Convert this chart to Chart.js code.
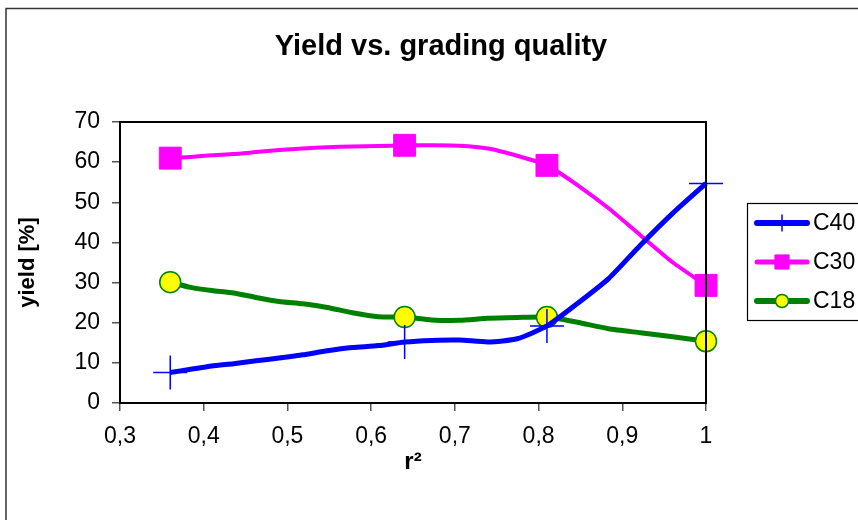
<!DOCTYPE html>
<html>
<head>
<meta charset="utf-8">
<script src="https://cdn.jsdelivr.net/npm/chart.js@4/dist/chart.umd.min.js"></script>
<style>
html,body{margin:0;padding:0;background:#fff;}
#wrap{width:858px;height:520px;position:relative;}
</style>
</head>
<body>
<div id="wrap"><canvas id="c" width="858" height="520"></canvas></div>
<script>
// r^2 values (r = 0.60 ... 1.00)
const rSquared = [0.36, 0.3844, 0.4096, 0.4356, 0.4624, 0.49, 0.5184, 0.5476, 0.5776, 0.6084, 0.64,
                  0.6724, 0.7056, 0.7396, 0.7744, 0.81, 0.8464, 0.8836, 0.9216, 0.9604, 1.0];
const c40 = [7.6, 8.4, 9.2, 9.8, 10.5, 11.2, 12.0, 13.0, 13.8, 14.3, 15.2,
             15.6, 15.7, 15.2, 16.0, 19.2, 24.8, 31.0, 39.3, 47.3, 54.7];
const c30 = [61.0, 61.3, 61.7, 62.0, 62.5, 63.0, 63.4, 63.7, 63.9, 64.0, 64.2,
             64.2, 64.1, 63.4, 61.6, 59.2, 54.3, 48.5, 41.8, 35.0, 29.3];
const c18 = [30.1, 28.8, 28.0, 27.4, 26.3, 25.3, 24.7, 23.8, 22.5, 21.5, 21.4,
             20.7, 20.6, 21.1, 21.3, 21.4, 20.1, 18.5, 17.5, 16.5, 15.4];
const markerIndices = [0, 10, 15, 20];
const seriesNames = ['C40', 'C30', 'C18'];
const xTickLabels = ['0,3', '0,4', '0,5', '0,6', '0,7', '0,8', '0,9', '1'];
const yTickLabels = ['0', '10', '20', '30', '40', '50', '60', '70'];
const chartTitle = 'Yield vs. grading quality';
const xTitle = 'r\u00B2';
const yTitle = 'yield [%]';

const FONT = "'Liberation Sans', Arial, sans-serif";
const toXY = arr => arr.map((v, i) => ({x: rSquared[i], y: v}));
const mk = r => ctx => markerIndices.includes(ctx.dataIndex) ? r : 0;

const datasets = [
  {label: seriesNames[0], data: toXY(c40), borderColor: '#0000FF', backgroundColor: '#0000FF',
   borderWidth: 5, pointStyle: 'cross', pointRadius: mk(17), pointBorderWidth: 1.5,
   pointBorderColor: '#0000FF', pointBackgroundColor: '#0000FF', legendRadius: 8.5},
  {label: seriesNames[1], data: toXY(c30), borderColor: '#FF00FF', backgroundColor: '#FF00FF',
   borderWidth: 4, pointStyle: 'rect', pointRadius: mk(15.5), pointBorderWidth: 1,
   pointBorderColor: '#FF00FF', pointBackgroundColor: '#FF00FF', legendRadius: 10},
  {label: seriesNames[2], data: toXY(c18), borderColor: '#008000', backgroundColor: '#008000',
   borderWidth: 5, pointStyle: 'circle', pointRadius: mk(10.5), pointBorderWidth: 1.5,
   pointBorderColor: '#008000', pointBackgroundColor: '#FFFF00', legendRadius: 6.5}
].map(d => Object.assign(d, {tension: 0.2, clip: false, pointHoverRadius: mk(17), fill: false}));

const decor = {
  id: 'decor',
  beforeDraw(chart) {
    const ctx = chart.ctx;
    ctx.save();
    ctx.fillStyle = '#fff';
    ctx.fillRect(0, 0, chart.width, chart.height);
    ctx.strokeStyle = '#333';
    ctx.lineWidth = 1.5;
    ctx.strokeRect(6, 8.5, 900, 600);
    ctx.restore();
  },
  afterDraw(chart) {
    const ctx = chart.ctx;
    const a = chart.chartArea;
    ctx.save();
    // plot box
    ctx.strokeStyle = '#000';
    ctx.lineWidth = 2;
    ctx.strokeRect(a.left, a.top, a.right - a.left, a.bottom - a.top);
    // title
    ctx.fillStyle = '#000';
    ctx.font = "bold 29px " + FONT;
    ctx.textAlign = 'center';
    ctx.textBaseline = 'middle';
    ctx.fillText(chartTitle, 441, 47);
    // legend
    const lx = 747, ly = 203, lh = 117;
    ctx.strokeStyle = '#000';
    ctx.lineWidth = 1.2;
    ctx.strokeRect(lx + 0.5, ly + 0.5, 200, lh);
    const rows = [223, 262, 301];
    chart.data.datasets.forEach((ds, i) => {
      const y = rows[i];
      ctx.strokeStyle = ds.borderColor;
      ctx.lineWidth = ds.borderWidth + 1;
      ctx.lineCap = 'round';
      ctx.beginPath();
      ctx.moveTo(757, y);
      ctx.lineTo(807, y);
      ctx.stroke();
      ctx.lineCap = 'butt';
      ctx.fillStyle = ds.pointBackgroundColor;
      ctx.strokeStyle = ds.pointBorderColor;
      ctx.lineWidth = ds.pointBorderWidth;
      Chart.helpers.drawPoint(ctx, {pointStyle: ds.pointStyle, rotation: 0, radius: ds.legendRadius,
        borderWidth: ds.pointBorderWidth}, 782, y);
      ctx.fillStyle = '#000';
      ctx.font = "23px " + FONT;
      ctx.textAlign = 'left';
      ctx.textBaseline = 'middle';
      ctx.fillText(ds.label, 813, y + 1);
    });
    ctx.restore();
  }
};

new Chart(document.getElementById('c'), {
  type: 'line',
  data: {datasets},
  options: {
    responsive: false,
    animation: false,
    events: [],
    layout: {padding: {top: 122, right: 152, bottom: 39, left: 11}},
    plugins: {legend: {display: false}, title: {display: false}, tooltip: {enabled: false}},
    scales: {
      x: {
        type: 'linear', min: 0.3, max: 1,
        afterFit: s => { s.height = 78; },
        grid: {display: true, drawOnChartArea: false, drawTicks: true, tickLength: 8, color: '#555', lineWidth: 1.5},
        border: {display: true, color: '#000', width: 2},
        ticks: {stepSize: 0.1, padding: 12, color: '#000', font: {family: FONT, size: 23},
                maxRotation: 0, autoSkip: false,
                callback: (v, i) => xTickLabels[i]},
        title: {display: true, text: xTitle, color: '#000', font: {family: FONT, size: 24, weight: 'bold'},
                padding: {top: 0, bottom: 4}}
      },
      y: {
        min: 0, max: 70,
        afterFit: s => { s.width = 109; },
        grid: {display: true, drawOnChartArea: false, drawTicks: true, tickLength: 8, color: '#555', lineWidth: 1.5},
        border: {display: true, color: '#000', width: 2},
        ticks: {stepSize: 10, padding: 12, color: '#000', font: {family: FONT, size: 23},
                callback: (v, i) => yTickLabels[i]},
        title: {display: true, text: yTitle, color: '#000', font: {family: FONT, size: 22, weight: 'bold'}}
      }
    }
  },
  plugins: [decor]
});
</script>
</body>
</html>
